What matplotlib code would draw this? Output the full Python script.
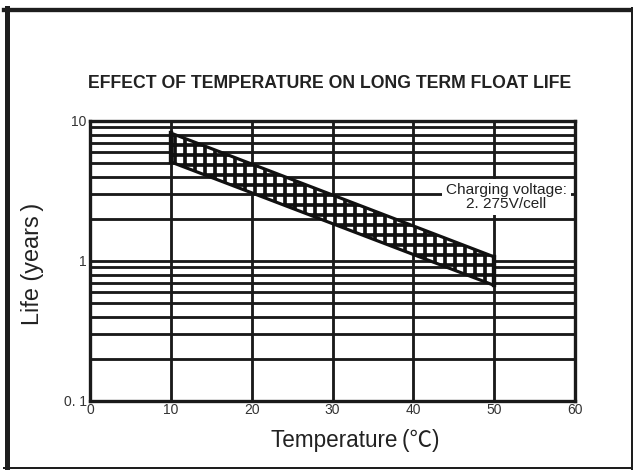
import matplotlib
matplotlib.use('Agg')
import matplotlib.pyplot as plt
from matplotlib.lines import Line2D
from matplotlib.ticker import FixedLocator, NullFormatter

# band of float life vs temperature (log scale)
band_temps = [10, 50]
life_upper = [8.2, 1.07]
life_lower = [5.1, 0.67]

x_ticks = [0, 10, 20, 30, 40, 50, 60]
y_ticks = [0.1, 1, 10]
y_tick_labels = ['0. 1', '1', '10']
y_minor = [m * d for d in (0.1, 1) for m in range(2, 10)]

title = 'EFFECT OF TEMPERATURE ON LONG TERM FLOAT LIFE'
note = 'Charging voltage:\n2. 275V/cell'
x_label = 'Temperature\u2009(℃)'
y_label = 'Life (years\u2009)'

DPI = 120  # hatch spacing follows dpi, 120 gives ~10px squares
W, H = 633, 470

plt.rcParams['hatch.linewidth'] = 2.2
plt.rcParams['font.family'] = ['Liberation Sans', 'Noto Sans CJK SC', 'DejaVu Sans']

fig = plt.figure(figsize=(W / DPI, H / DPI), dpi=DPI)
ax = fig.add_axes([90 / W, 1 - 401 / H, 485 / W, 280 / H])

ax.set_yscale('log')
ax.set_xlim(0, 60)
ax.set_ylim(0.1, 10)

lw = 1.7
for y in y_minor + [1]:
    ax.axhline(y, color='#1a1a1a', lw=lw, zorder=1)
for x in x_ticks[1:-1]:
    ax.axvline(x, color='#1a1a1a', lw=lw, zorder=1)

ax.fill_between(band_temps, life_lower, life_upper, facecolor='white',
                edgecolor='#111111', hatch='++', lw=0, zorder=3)
ax.plot(band_temps, life_upper, color='#111111', lw=1.9, zorder=4)
ax.plot(band_temps, life_lower, color='#111111', lw=1.9, zorder=4)
for t, lo, hi in zip(band_temps, life_lower, life_upper):
    ax.plot([t, t], [lo, hi], color='#111111', lw=2.6, zorder=4)

ax.text(51.5, 2.85, note, ha='center', va='center', fontsize=9.2,
        color='#222222', linespacing=1.0, zorder=5,
        bbox=dict(facecolor='white', edgecolor='none', pad=2.5))

for s in ax.spines.values():
    s.set_linewidth(2.0)
    s.set_color('#1a1a1a')

ax.xaxis.set_major_locator(FixedLocator(x_ticks))
ax.yaxis.set_major_locator(FixedLocator(y_ticks))
ax.yaxis.set_minor_formatter(NullFormatter())
ax.set_yticklabels(y_tick_labels)
ax.tick_params(which='both', length=0, labelsize=8.3, colors='#333333', pad=2)
ax.tick_params(axis='x', pad=1)

fig.text(355 / W, 1 - 440 / H, x_label, ha='center', va='center',
         fontsize=13.5, color='#222222')
fig.text(32 / W, 1 - 264 / H, y_label, ha='center', va='center',
         rotation=90, fontsize=14, color='#222222')

fig.text(330 / W, 1 - 83 / H, title, ha='center', va='center', fontsize=10.6,
         fontweight='bold', color='#222222')

# outer frame
fig.add_artist(Line2D([4 / W, 1], [1 - 10 / H] * 2, color='#1e1e1e', lw=2.6))
fig.add_artist(Line2D([6.5 / W] * 2, [0, 1 - 8 / H], color='#1e1e1e', lw=3.0))
fig.add_artist(Line2D([631.5 / W] * 2, [0, 1 - 8 / H], color='#1e1e1e', lw=1.2))
fig.add_artist(Line2D([4 / W, 1], [2 / H] * 2, color='#1e1e1e', lw=1.2))

fig.savefig('out.png', dpi=DPI)
